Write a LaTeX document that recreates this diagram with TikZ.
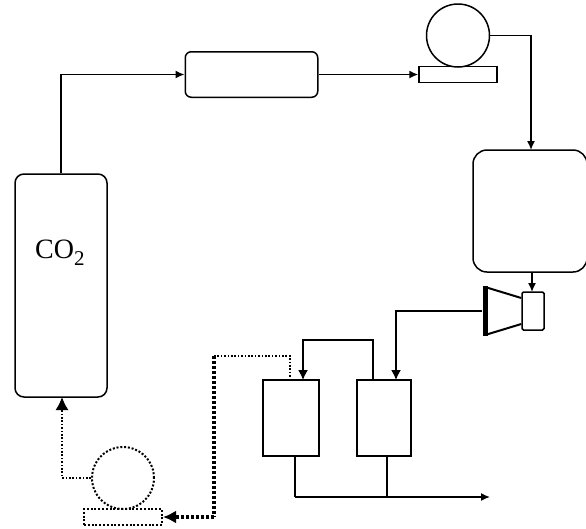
\documentclass[tikz,border=0pt]{standalone}
\usepackage{fontspec}
\setmainfont{Liberation Serif}
\usetikzlibrary{arrows.meta}
\definecolor{plantblack}{HTML}{000000}

\begin{document}
\begin{tikzpicture}[
  x=1pt,
  y=-1pt,
  tank/.style={draw=plantblack, line width=1.5pt, rectangle, inner sep=0pt},
  vessel/.style={draw=plantblack, line width=1.5pt, rectangle, inner sep=0pt},
  wheel/.style={draw=plantblack, line width=1.5pt, circle, inner sep=0pt, minimum size=63pt},
  arrow/.style={-{Latex[length=9pt,width=8pt]}, line width=1.5pt, draw=plantblack},
  bigarrow/.style={-{Latex[length=10pt,width=10pt]}, line width=1.5pt, draw=plantblack},
  pipe/.style={line width=1.5pt, draw=plantblack},
  dotpipe/.style={line width=1.5pt, draw=plantblack, dash pattern=on 1.6pt off 1.8pt},
  heavydot/.style={line width=3.2pt, draw=plantblack, dash pattern=on 3pt off 2pt},
  lightdot/.style={line width=2pt, dash pattern=on 2pt off 1.8pt}
]
\useasboundingbox (0,0) rectangle (586,528);

\node[tank, minimum width=92pt, minimum height=223pt, rounded corners=9pt] (co2) at (61,285.5) {};
\node[anchor=base west, inner sep=0pt, font=\fontsize{28}{32}\selectfont] (co2label) at (35,258)
  {CO\raisebox{-7pt}{\fontsize{21}{24}\selectfont 2}};
\node[tank, minimum width=132.5pt, minimum height=45.5pt, rounded corners=6pt] (buffer) at (251.5,74.5) {};
\node[wheel] (compressor) at (458,35.5) {};
\node[vessel, minimum width=78pt, minimum height=16pt] (compbase) at (458,74.5) {};
\node[tank, minimum width=114pt, minimum height=122pt, rounded corners=14pt] (storage) at (530,211) {};
\node[vessel, rounded corners=1.5pt, minimum width=22pt, minimum height=38pt] (generator) at (533,311) {};
\node[fill=plantblack, inner sep=0pt, minimum width=5pt, minimum height=50pt] (turbinebar) at (485,311) {};
\node[vessel, minimum width=56pt, minimum height=76pt] (leftcell) at (291,418) {};
\node[vessel, minimum width=54pt, minimum height=76pt] (rightcell) at (384,418) {};
\node[wheel, lightdot, minimum size=62pt] (pump) at (123,478) {};
\node[vessel, lightdot, minimum width=78pt, minimum height=16pt] (pumpbase) at (123,517) {};

\coordinate (storagein) at (531,150);
\coordinate (storageout) at (532,272);
\coordinate (genin) at (532,292);
\coordinate (outend) at (490,497);
\coordinate (outjoin) at (295,497);
\coordinate (outright) at (387,497);
\coordinate (rightin) at (396,380);
\coordinate (leftin) at (303,380);
\coordinate (crossout) at (373,380);
\coordinate (crosstop) at (373,340);
\coordinate (returnout) at (290,380);
\coordinate (returntop) at (214,356);
\coordinate (returnlow) at (214,517);
\coordinate (tankreturn) at (62,397);

\draw[arrow] (co2.north) |- (buffer.west);
\draw[arrow] (buffer.east) -- (compbase.west);
\draw[arrow] (compressor.east) -| (storagein);
\draw[arrow] (storageout) -- (genin);
\draw[pipe, line width=2pt] (turbinebar.north east) ++(0,2) -- (generator.north west |- 522,298);
\draw[pipe, line width=2pt] (turbinebar.south east) ++(0,-2) -- (generator.south west |- 522,324);

\draw[bigarrow] (turbinebar.west) -| (rightin);
\draw[bigarrow] (crossout) -- (crosstop) -| (leftin);

\draw[dotpipe] (returntop) -| (returnout);
\draw[heavydot] (returntop) -- (returnlow);
\draw[heavydot, -{Latex[length=13pt,width=13pt]}] (returnlow) -- (pumpbase.east);
\draw[dotpipe, -{Latex[length=13pt,width=13pt]}] (pump.west) -| (tankreturn);

\draw[pipe] (leftcell.south -| outjoin) -- (outjoin);
\draw[pipe] (rightcell.south -| outright) -- (outright);
\draw[arrow] (outjoin) -- (outend);
\end{tikzpicture}
\end{document}
